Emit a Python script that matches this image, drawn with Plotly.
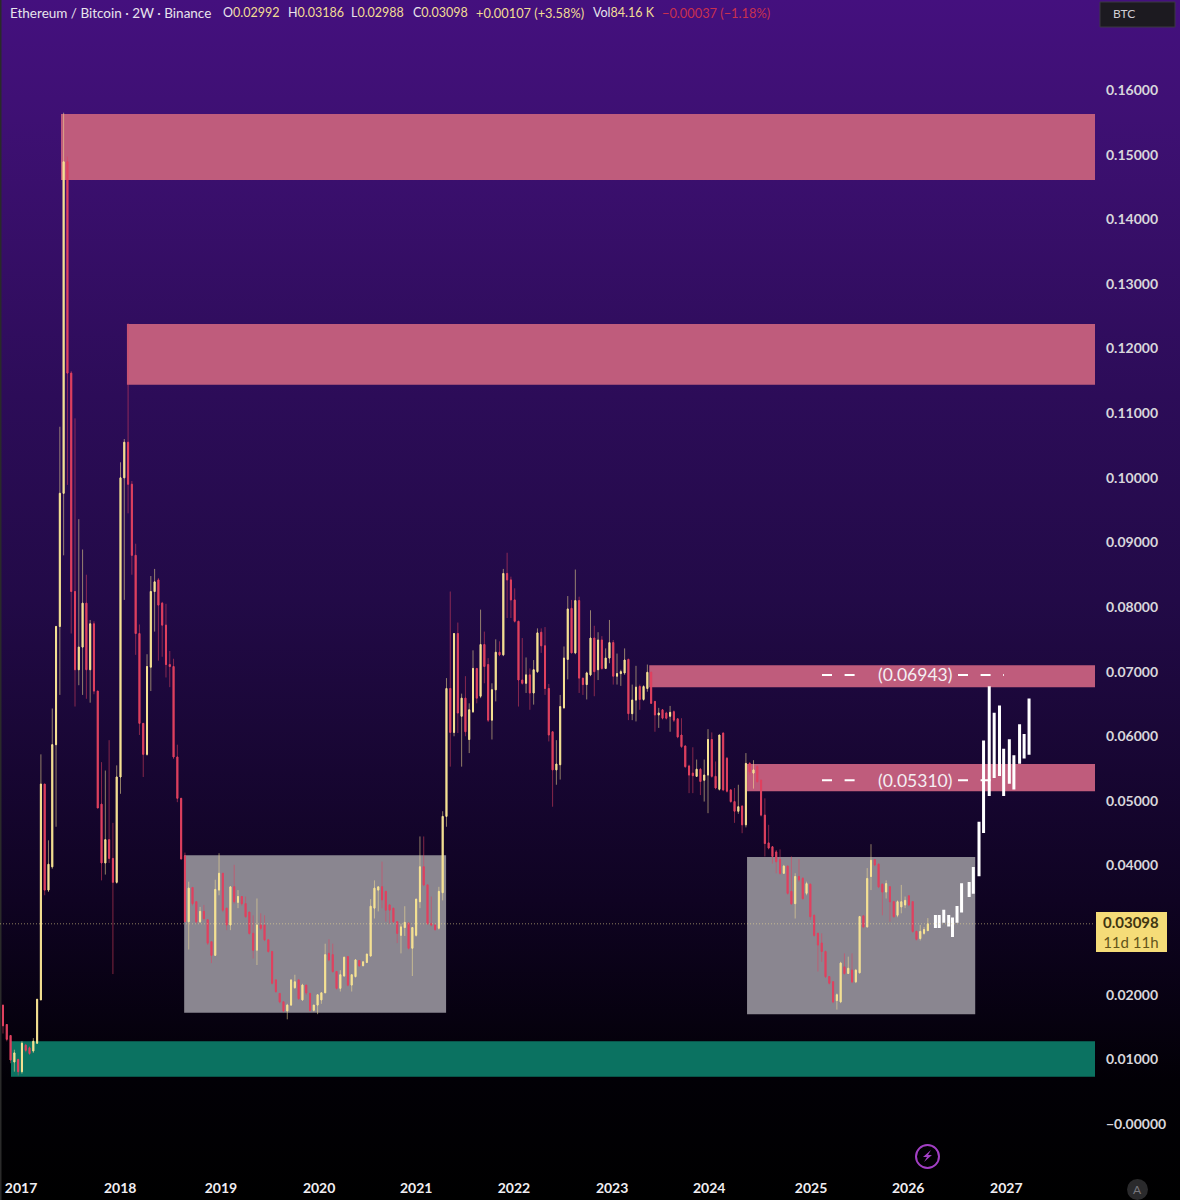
import base64
import plotly.graph_objects as go

opens = [
.0184,.0154,.0137,.0096,.0100,.0081,.0122,.0118,.0113,.0125,
.0192,.0526,.0362,.0398,.0587,.0770,.0976,.1489,.1162,.0824,
.0703,.0738,.0806,.0703,.0774,.0670,.0495,.0404,.0440,.0411,
.0374,.0537,.1000,.1055,.0990,.0880,.0759,.0620,.0572,.0707,
.0824,.0842,.0806,.0772,.0711,.0708,.0568,.0504,.0415,.0313,
.0366,.0344,.0313,.0329,.0316,.0282,.0261,.0362,.0388,.0334,
.0308,.0367,.0343,.0352,.0341,.0328,.0295,.0269,.0308,.0308,
.0285,.0267,.0223,.0202,.0189,.0175,.0184,.0211,.0223,.0192,
.0215,.0202,.0176,.0184,.0192,.0203,.0264,.0262,.0236,.0210,
.0229,.0259,.0215,.0228,.0253,.0245,.0250,.0260,.0334,.0362,
.0367,.0360,.0339,.0334,.0313,.0292,.0304,.0311,.0272,.0292,
.0344,.0398,.0370,.0310,.0308,.0303,.0358,.0476,.0674,.0606,
.0759,.0631,.0659,.0595,.0638,.0705,.0662,.0742,.0711,.0625,
.0672,.0730,.0726,.0852,.0842,.0811,.0778,.0687,.0682,.0695,
.0667,.0700,.0761,.0740,.0674,.0607,.0548,.0556,.0644,.0719,
.0798,.0729,.0810,.0690,.0680,.0695,.0752,.0703,.0749,.0705,
.0721,.0745,.0693,.0697,.0698,.0719,.0635,.0656,.0677,.0657,
.0674,.0699,.0654,.0633,.0641,.0636,.0631,.0638,.0627,.0602,
.0585,.0554,.0543,.0538,.0549,.0532,.0540,.0595,.0538,.0518,
.0605,.0566,.0517,.0499,.0484,.0492,.0463,.0558,.0543,.0553,
.0532,.0478,.0435,.0429,.0421,.0409,.0388,.0399,.0360,.0341,
.0383,.0380,.0357,.0371,.0323,.0295,.0280,.0267,.0228,.0220,
.0191,.0189,.0243,.0233,.0238,.0220,.0234,.0322,.0305,.0383,
.0409,.0402,.0371,.0359,.0367,.0344,.0323,.0336,.0339,.0353,
.0344,.0298,.0287,.0295,.02992]

highs = [
.0184,.0154,.0137,.0115,.0100,.0128,.0124,.0120,.0133,.0193,
.0572,.0526,.0439,.0643,.0770,.1079,.1565,.1497,.1165,.1092,
.0936,.0889,.0850,.0780,.0778,.0670,.0560,.0547,.0594,.0466,
.0555,.1024,.1060,.1239,.0995,.0898,.0773,.0620,.0727,.0848,
.0859,.0845,.0808,.0805,.0732,.0720,.0587,.0504,.0420,.0375,
.0366,.0344,.0336,.0339,.0316,.0282,.0378,.0419,.0388,.0334,
.0367,.0401,.0362,.0352,.0352,.0328,.0323,.0349,.0326,.0323,
.0285,.0267,.0223,.0202,.0189,.0186,.0223,.0231,.0223,.0217,
.0215,.0202,.0184,.0200,.0203,.0279,.0286,.0279,.0236,.0238,
.0259,.0259,.0231,.0254,.0253,.0251,.0263,.0348,.0377,.0367,
.0406,.0360,.0339,.0334,.0313,.0310,.0337,.0311,.0304,.0348,
.0445,.0445,.0370,.0352,.0308,.0367,.0484,.0690,.0824,.0759,
.0776,.0666,.0693,.0651,.0733,.0705,.0796,.0762,.0721,.0682,
.0750,.0747,.0859,.0884,.0847,.0829,.0778,.0752,.0722,.0705,
.0718,.0767,.0767,.0769,.0681,.0607,.0594,.0664,.0739,.0817,
.0811,.0858,.0816,.0690,.0700,.0795,.0771,.0761,.0755,.0736,
.0780,.0749,.0728,.0703,.0736,.0720,.0680,.0709,.0680,.0679,
.0711,.0700,.0654,.0644,.0642,.0638,.0647,.0640,.0628,.0628,
.0586,.0556,.0583,.0564,.0551,.0564,.0611,.0606,.0561,.0602,
.0606,.0568,.0518,.0520,.0525,.0493,.0574,.0560,.0563,.0555,
.0533,.0504,.0463,.0430,.0424,.0425,.0401,.0400,.0414,.0388,
.0410,.0382,.0375,.0372,.0324,.0296,.0295,.0268,.0229,.0221,
.0202,.0251,.0264,.0259,.0264,.0240,.0322,.0323,.0396,.0433,
.0410,.0403,.0372,.0377,.0368,.0345,.0346,.0370,.0352,.0354,
.0345,.0299,.0308,.0305,.03186]

lows = [
.0140,.0128,.0094,.0081,.0075,.0078,.0111,.0107,.0110,.0124,
.0192,.0354,.0359,.0395,.0460,.0664,.0880,.0989,.0759,.0646,
.0679,.0664,.0658,.0652,.0665,.0489,.0377,.0386,.0404,.0232,
.0372,.0511,.0811,.0945,.0850,.0726,.0602,.0537,.0570,.0670,
.0762,.0717,.0723,.0691,.0676,.0565,.0498,.0410,.0313,.0270,
.0338,.0310,.0311,.0315,.0277,.0249,.0260,.0354,.0328,.0300,
.0300,.0341,.0334,.0338,.0319,.0293,.0256,.0246,.0300,.0283,
.0265,.0216,.0203,.0187,.0173,.0162,.0183,.0209,.0192,.0191,
.0200,.0174,.0174,.0170,.0186,.0203,.0252,.0234,.0208,.0205,
.0228,.0213,.0205,.0227,.0243,.0244,.0249,.0259,.0318,.0329,
.0334,.0313,.0310,.0310,.0280,.0264,.0291,.0270,.0229,.0290,
.0334,.0368,.0308,.0306,.0299,.0301,.0346,.0460,.0553,.0600,
.0605,.0553,.0600,.0574,.0636,.0651,.0659,.0682,.0622,.0595,
.0654,.0724,.0724,.0783,.0783,.0776,.0646,.0680,.0667,.0641,
.0649,.0698,.0729,.0664,.0592,.0491,.0525,.0533,.0643,.0688,
.0729,.0727,.0667,.0664,.0657,.0693,.0662,.0687,.0703,.0704,
.0713,.0680,.0680,.0678,.0695,.0625,.0625,.0623,.0641,.0655,
.0669,.0650,.0607,.0613,.0626,.0626,.0607,.0622,.0597,.0582,
.0551,.0512,.0512,.0537,.0509,.0499,.0481,.0536,.0518,.0516,
.0515,.0513,.0497,.0466,.0480,.0450,.0459,.0540,.0519,.0528,
.0476,.0414,.0425,.0403,.0388,.0386,.0387,.0355,.0339,.0318,
.0375,.0347,.0354,.0316,.0290,.0236,.0251,.0226,.0216,.0187,
.0177,.0187,.0231,.0232,.0218,.0218,.0233,.0303,.0304,.0362,
.0399,.0365,.0323,.0349,.0313,.0319,.0320,.0326,.0334,.0337,
.0296,.0284,.0284,.0293,.02988]

closes = [
.0152,.0131,.0099,.0110,.0081,.0125,.0114,.0109,.0128,.0193,
.0526,.0362,.0402,.0587,.0770,.0976,.1489,.1162,.0824,.0703,
.0738,.0806,.0703,.0774,.0670,.0489,.0404,.0440,.0411,.0374,
.0537,.1000,.1055,.0990,.0880,.0759,.0620,.0572,.0708,.0824,
.0839,.0803,.0772,.0711,.0708,.0568,.0504,.0410,.0313,.0365,
.0341,.0313,.0329,.0318,.0280,.0261,.0363,.0388,.0331,.0308,
.0367,.0344,.0352,.0341,.0321,.0295,.0269,.0308,.0303,.0285,
.0267,.0218,.0205,.0189,.0175,.0184,.0223,.0220,.0194,.0215,
.0203,.0176,.0184,.0200,.0203,.0262,.0254,.0236,.0210,.0231,
.0258,.0215,.0231,.0254,.0245,.0251,.0263,.0337,.0365,.0367,
.0347,.0331,.0331,.0313,.0295,.0305,.0312,.0272,.0304,.0348,
.0398,.0370,.0310,.0308,.0301,.0360,.0476,.0674,.0606,.0759,
.0636,.0659,.0607,.0641,.0705,.0659,.0742,.0708,.0625,.0672,
.0730,.0726,.0852,.0842,.0811,.0778,.0687,.0682,.0695,.0667,
.0703,.0760,.0740,.0674,.0602,.0548,.0557,.0646,.0721,.0797,
.0729,.0810,.0690,.0680,.0698,.0752,.0700,.0749,.0705,.0721,
.0745,.0693,.0697,.0700,.0718,.0635,.0656,.0676,.0657,.0677,
.0699,.0651,.0633,.0636,.0628,.0628,.0637,.0625,.0599,.0584,
.0553,.0540,.0539,.0549,.0530,.0540,.0595,.0538,.0520,.0602,
.0517,.0515,.0499,.0484,.0491,.0463,.0558,.0545,.0548,.0530,
.0478,.0434,.0427,.0414,.0406,.0388,.0399,.0357,.0341,.0383,
.0378,.0349,.0372,.0321,.0292,.0277,.0267,.0228,.0218,.0189,
.0200,.0249,.0233,.0241,.0220,.0238,.0321,.0305,.0380,.0408,
.0401,.0367,.0359,.0372,.0344,.0321,.0344,.0344,.0346,.0339,
.0298,.0286,.0298,.0301,.03098]

# white hand-drawn projection bars (candle position, bottom, top)
proj_x = [246.0,247.0,248.2,249.5,250.5,251.7,252.9,254.9,256.0,257.5,
          258.7,260.2,261.5,262.9,264.0,265.5,266.7,268.2,269.4,270.7]
proj_lo = [.0305,.0305,.0313,.0307,.0291,.0313,.0329,.0353,.0358,.0385,
           .0452,.0509,.0537,.0540,.0509,.0528,.0519,.0559,.0567,.0573]
proj_hi = [.0322,.0322,.0330,.0322,.0318,.0336,.0371,.0373,.0396,.0466,
           .0592,.0676,.0635,.0646,.0579,.0594,.0569,.0617,.0602,.0657]

# zones: x0, x1 in candle positions, y0, y1 in price
X_END = 288.1
pink_zones = [(15.3, X_END, .1461, .1563), (32.7, X_END, .1144, .1238),
              (170.5, X_END, .0676, .0710), (196.3, X_END, .0515, .0557)]
grey_zones = [(47.8, 116.9, .0172, .0416), (196.3, 256.5, .0170, .0413)]
green_zone = (2.1, X_END, .0073, .0128)

year_pos = [4.75, 30.9, 57.5, 83.4, 109.0, 134.8, 160.7, 186.3, 213.2, 238.8, 264.7]
year_txt = ["2017", "2018", "2019", "2020", "2021", "2022", "2023", "2024", "2025", "2026", "2027"]
price_ticks = [0.0, .01, .02, .04, .05, .06, .07, .08, .09, .10, .11, .12, .13, .14, .15, .16]
price_txt = ["\u22120.00000"] + [f"{v:.5f}" for v in price_ticks[1:]]
last_price = .03098

UP, DOWN = "#f6e293", "#e0415f"
UP_W, DOWN_W = "rgba(246,226,147,0.55)", "rgba(224,65,95,0.55)"
W, H, PW, PH = 1180, 1200, 1095, 1170
n = len(opens)
assert n == len(highs) == len(lows) == len(closes)
xs = list(range(n))


def px(x):
    return x / PW


def py(y):
    return 1 - y / PH


fig = go.Figure()
fig.add_trace(go.Candlestick(
    x=xs, open=opens, high=highs, low=lows, close=closes, whiskerwidth=0,
    increasing=dict(line=dict(color=UP_W, width=1), fillcolor="rgba(0,0,0,0)"),
    decreasing=dict(line=dict(color=DOWN_W, width=1), fillcolor="rgba(0,0,0,0)"),
    hoverinfo="skip", showlegend=False))
fig.add_trace(go.Candlestick(
    x=xs, open=opens, close=closes,
    high=[max(a, b) for a, b in zip(opens, closes)],
    low=[min(a, b) for a, b in zip(opens, closes)],
    whiskerwidth=0,
    increasing=dict(line=dict(color=UP, width=1), fillcolor=UP),
    decreasing=dict(line=dict(color=DOWN, width=1), fillcolor=DOWN),
    hoverinfo="skip", showlegend=False))
fig.add_trace(go.Candlestick(
    x=proj_x, open=proj_lo, close=proj_hi, high=proj_hi, low=proj_lo, whiskerwidth=0,
    increasing=dict(line=dict(color="#ffffff", width=2), fillcolor="#ffffff"),
    hoverinfo="skip", showlegend=False))

shapes = []
for x0, x1, y0, y1 in pink_zones:
    shapes.append(dict(type="rect", x0=x0, x1=x1, y0=y0, y1=y1, xref="x", yref="y",
                       fillcolor="#bf5c7c", line_width=0, layer="below"))
for x0, x1, y0, y1 in grey_zones:
    shapes.append(dict(type="rect", x0=x0, x1=x1, y0=y0, y1=y1, xref="x", yref="y",
                       fillcolor="#8a8690", line_width=0, layer="below"))
x0, x1, y0, y1 = green_zone
shapes.append(dict(type="rect", x0=x0, x1=x1, y0=y0, y1=y1, xref="x", yref="y",
                   fillcolor="#0b7261", line_width=0, layer="below"))
# last price line
shapes.append(dict(type="line", xref="paper", yref="y", x0=0, x1=1, y0=last_price, y1=last_price,
                   line=dict(color="rgba(246,226,147,0.55)", width=1, dash="1px,2px"), layer="above"))
# dashed level lines, broken around their labels
for lvl in (.0695, .0532):
    for a, b in ((822, 856), (958, 1004)):
        shapes.append(dict(type="line", xref="paper", yref="y", x0=px(a), x1=px(b), y0=lvl, y1=lvl,
                           line=dict(color="#ffffff", width=2, dash="10px,12.6px"), layer="above"))
# price tag, BTC box, left sliver, A circle, bolt badge
shapes.append(dict(type="rect", xref="paper", yref="paper", x0=px(1096), x1=px(1167), y0=py(952), y1=py(912),
                   fillcolor="#f5dc78", line_width=0))
shapes.append(dict(type="rect", xref="paper", yref="paper", x0=px(1100), x1=px(1175), y0=py(27), y1=py(2),
                   fillcolor="#1c1a20", line=dict(color="#3a3840", width=1)))
shapes.append(dict(type="rect", xref="paper", yref="paper", x0=0, x1=px(1.5), y0=py(1200), y1=py(0),
                   fillcolor="#2a2a2a", line_width=0, layer="below"))
shapes.append(dict(type="circle", xref="paper", yref="paper", x0=px(1127), x1=px(1148), y0=py(1200), y1=py(1179),
                   fillcolor="#2a2a2c", line_width=0))
shapes.append(dict(type="circle", xref="paper", yref="paper", x0=px(916), x1=px(939), y0=py(1168), y1=py(1145),
                   fillcolor="rgba(0,0,0,0)", line=dict(color="#a23fc4", width=2)))
bolt = [(931, 1150), (923, 1157), (927, 1157), (924, 1162), (932, 1155), (928, 1155)]
shapes.append(dict(type="path", xref="paper", yref="paper", fillcolor="#a23fc4", line_width=0,
                   path="M " + " L ".join(f"{px(a):.5f},{py(b):.5f}" for a, b in bolt) + " Z"))

FONT = "Lato, 'Open Sans', sans-serif"
ann = []


def label(x, y, text, color, size=12, anchor="left", weight=None, **kw):
    ann.append(dict(xref="paper", yref="paper", x=px(x), y=py(y), text=text, showarrow=False,
                    xanchor=anchor, yanchor="middle",
                    font=dict(family=FONT, size=size, color=color, weight=weight), **kw))


WHITE_T, YEL_T, RED_T = "#e8e4ec", "#f2dd94", "#c9304f"


def pair(head, val):
    return f"<span style='color:{WHITE_T}'>{head}</span><span style='color:{YEL_T}'>{val}</span>"


label(8, 13, "Ethereum / Bitcoin \u00b7 2W \u00b7 Binance", WHITE_T, size=13.5)
label(221, 13, pair("O", "0.02992"), YEL_T, size=12.5)
label(286, 13, pair("H", "0.03186"), YEL_T, size=12.5)
label(349, 13, pair("L", "0.02988"), YEL_T, size=12.5)
label(411, 13, pair("C", "0.03098"), YEL_T, size=12.5)
label(474, 13, "+0.00107 (+3.58%)", YEL_T, size=12.8)
label(591, 13, pair("Vol", "84.16 K"), YEL_T, size=12.5)
label(660, 13, "\u22120.00037 (\u22121.18%)", RED_T, size=12.8)
label(1111, 14, "BTC", "#d0ced4", size=12)
label(1131, 932, "<b>0.03098</b><br><span style='color:#63541a'>11d 11h</span>", "#3f3510", size=15, anchor="center")
label(1137.5, 1189.5, "A", "#77767c", size=12, anchor="center")
label(914.5, 675, "(0.06943)", "#f4eef2", size=17.5, anchor="center")
label(914.5, 780, "(0.05310)", "#f4eef2", size=17.5, anchor="center")

svg = ("<svg xmlns='http://www.w3.org/2000/svg' width='1180' height='1200'>"
       "<defs><linearGradient id='g' x1='0' y1='0' x2='0' y2='1'>"
       "<stop offset='0' stop-color='#44107e'/><stop offset='0.1' stop-color='#3e1073'/>"
       "<stop offset='0.33' stop-color='#2c0c58'/><stop offset='0.5' stop-color='#220a47'/>"
       "<stop offset='0.75' stop-color='#0f0322'/><stop offset='0.9' stop-color='#020006'/>"
       "<stop offset='1' stop-color='#000000'/></linearGradient></defs>"
       "<rect width='1180' height='1200' fill='url(#g)'/></svg>")
bg = "data:image/svg+xml;base64," + base64.b64encode(svg.encode()).decode()

fig.update_layout(
    width=W, height=H, margin=dict(l=0, r=W - PW, t=0, b=H - PH, autoexpand=False),
    paper_bgcolor="#000000", plot_bgcolor="rgba(0,0,0,0)", showlegend=False, dragmode=False,
    boxmode="overlay", boxgap=0.62,
    shapes=shapes, annotations=ann,
    images=[dict(source=bg, xref="paper", yref="paper", x=0, y=1, sizex=W / PW, sizey=H / PH,
                 xanchor="left", yanchor="top", sizing="stretch", layer="below")],
    xaxis=dict(range=[-0.79, X_END], showgrid=False, zeroline=False, showline=False, rangeslider_visible=False,
               tickmode="array", tickvals=year_pos, ticktext=year_txt, ticks="", ticklabelstandoff=8,
               tickfont=dict(family=FONT, size=14, color="#f0eef2", weight=700), tickangle=0),
    yaxis=dict(range=[(1124 - PH) / 6462, 1124 / 6462], side="right", showgrid=False, zeroline=False, showline=False,
               tickmode="array", tickvals=price_ticks, ticktext=price_txt, ticks="", ticklabelstandoff=10,
               tickfont=dict(family=FONT, size=14, color="#d8d6dc", weight=700)),
)
fig.write_html("out.html", config=dict(displayModeBar=False, staticPlot=True),
               post_script="document.body.style.margin='0';document.body.style.background='#000';")
